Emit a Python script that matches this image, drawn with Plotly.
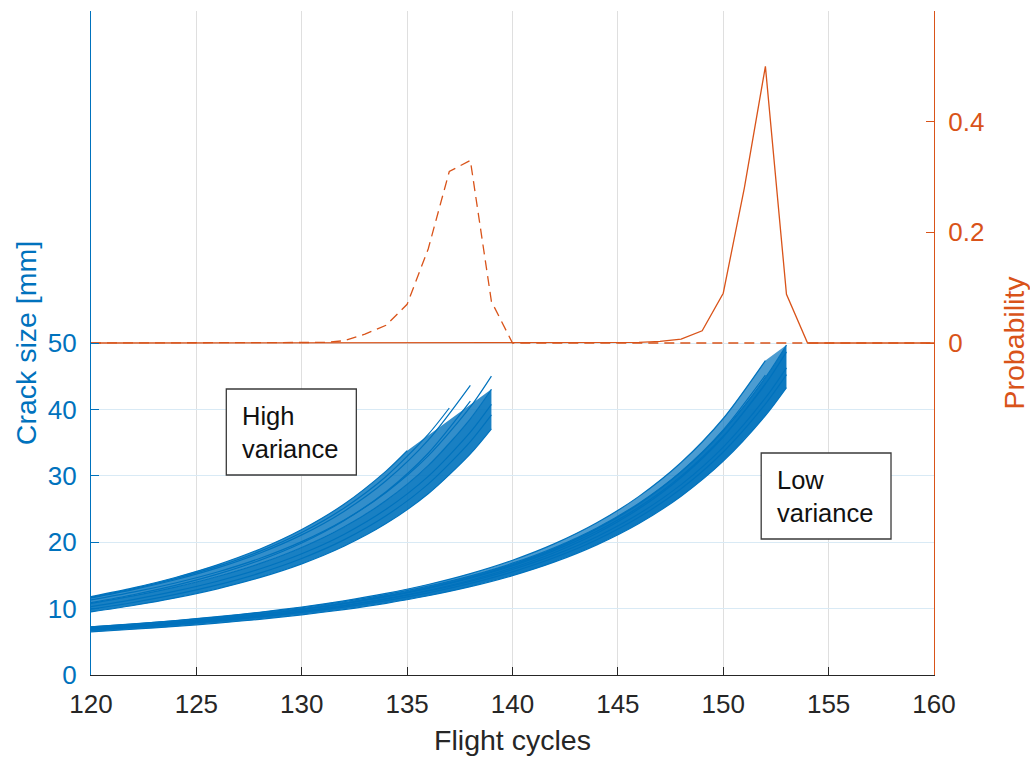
import plotly.graph_objects as go

BLUE = "#0072BD"
ORANGE = "#D95319"
DARK = "#262626"
FONT = "Liberation Sans, Arial, Helvetica, sans-serif"

# ---------------------------------------------------------------------------
# Crack growth paths, high-variance population (flight cycle -> crack size, mm)
# ---------------------------------------------------------------------------
hv_cycles_139 = [120, 122, 124, 126, 128, 130, 132, 134, 136, 138, 139]
hv_cycles_138 = [120, 122, 124, 126, 128, 130, 132, 134, 136, 138]
hv_cycles_137 = [120, 122, 124, 126, 128, 130, 132, 134, 136, 137]
hv_cycles_135 = [120, 122, 124, 126, 128, 130, 132, 134, 135]

hv_slowest = [9.50, 10.47, 11.61, 12.98, 14.66, 16.74, 19.39, 22.80, 27.29, 33.30, 37.07]
hv_fastest = [11.80, 13.12, 14.69, 16.59, 18.94, 21.91, 25.71, 30.70, 33.77]
hv_path_a = [9.90, 10.92, 12.13, 13.57, 15.34, 17.55, 20.35, 23.98, 28.75, 35.15, 39.17]
hv_path_b = [10.30, 11.36, 12.62, 14.12, 15.96, 18.26, 21.17, 24.95, 29.91, 36.57, 40.75]
hv_path_c = [10.80, 11.92, 13.24, 14.83, 16.77, 19.20, 22.28, 26.27, 31.53, 38.59, 43.03]
hv_path_d = [11.30, 12.47, 13.86, 15.51, 17.55, 20.09, 23.31, 27.49, 32.99, 40.37, 45.02]
hv_path_e = [11.60, 12.86, 14.34, 16.13, 18.34, 21.10, 24.64, 29.25, 35.36, 43.62]
hv_path_f = [10.90, 12.09, 13.49, 15.18, 17.27, 19.89, 23.24, 27.60, 33.40, 41.25]
hv_path_g = [11.70, 12.99, 14.51, 16.35, 18.62, 21.47, 25.13, 29.90, 36.24, 40.21]

# ---------------------------------------------------------------------------
# Crack growth paths, low-variance population
# ---------------------------------------------------------------------------
lv_cycles_153 = [120, 122, 124, 126, 128, 130, 132, 134, 136, 138, 140, 142,
                 144, 146, 148, 150, 152, 153]
lv_cycles_152 = [120, 122, 124, 126, 128, 130, 132, 134, 136, 138, 140, 142,
                 144, 146, 148, 150, 152]

lv_slowest = [6.50, 6.89, 7.32, 7.82, 8.39, 9.07, 9.86, 10.80, 11.93, 13.30,
              14.97, 17.03, 19.60, 22.82, 26.93, 32.21, 39.07, 43.29]
lv_fastest = [7.25, 7.68, 8.17, 8.73, 9.38, 10.13, 11.03, 12.10, 13.38, 14.94,
              16.84, 19.21, 22.15, 25.88, 30.63, 36.77, 44.81, 49.70]
lv_path_a = [6.75, 7.15, 7.60, 8.11, 8.71, 9.41, 10.23, 11.20, 12.38, 13.80,
             15.54, 17.69, 20.37, 23.75, 28.05, 33.59, 40.81, 45.24]
lv_path_b = [6.90, 7.31, 7.77, 8.29, 8.90, 9.61, 10.45, 11.45, 12.65, 14.11,
             15.89, 18.09, 20.83, 24.28, 28.67, 34.33, 41.72, 46.25]
lv_path_c = [7.05, 7.47, 7.95, 8.50, 9.13, 9.87, 10.75, 11.79, 13.05, 14.58,
             16.44, 18.76, 21.64, 25.29, 29.95, 35.96, 43.83, 48.67]
lv_path_d = [6.80, 7.22, 7.69, 8.23, 8.86, 9.59, 10.46, 11.49, 12.75, 14.27,
             16.13, 18.45, 21.35, 25.03, 29.74, 35.84, 43.86]
lv_path_e = [7.00, 7.43, 7.91, 8.47, 9.12, 9.87, 10.77, 11.83, 13.12, 14.69,
             16.61, 18.99, 21.98, 25.77, 30.61, 36.90, 45.15]
lv_path_f = [7.25, 7.70, 8.20, 8.78, 9.45, 10.24, 11.17, 12.28, 13.63, 15.27,
             17.28, 19.78, 22.92, 26.90, 32.00, 38.63, 47.35]

# ---------------------------------------------------------------------------
# Probability of reaching the critical crack size at each flight cycle
# ---------------------------------------------------------------------------
prob_cycles = list(range(120, 161))
pdf_high_variance = [0, 0, 0, 0, 0, 0, 0, 0, 0, 0,
                     0.0005, 0.001, 0.004, 0.016, 0.032, 0.07, 0.17, 0.31, 0.33, 0.075,
                     0, 0, 0, 0, 0, 0, 0, 0, 0, 0,
                     0, 0, 0, 0, 0, 0, 0, 0, 0, 0, 0]
pdf_low_variance = [0, 0, 0, 0, 0, 0, 0, 0, 0, 0,
                    0, 0, 0, 0, 0, 0, 0, 0, 0, 0,
                    0, 0, 0, 0, 0, 0.0005, 0.001, 0.003, 0.007, 0.022,
                    0.09, 0.28, 0.50, 0.088, 0, 0, 0, 0, 0, 0, 0]

x_ticks = [120, 125, 130, 135, 140, 145, 150, 155, 160]
crack_ticks = [0, 10, 20, 30, 40, 50]
prob_ticks = [0, 0.2, 0.4]
prob_tick_text = ["0", "0.2", "0.4"]

TICK_SIZE = 26
TITLE_SIZE = 28.5

fig = go.Figure()


def path(cycles, sizes, fill=None, fillcolor=None):
    fig.add_trace(go.Scatter(
        x=cycles, y=sizes, mode="lines",
        line=dict(color=BLUE, width=1.2, shape="spline", smoothing=0.8),
        fill=fill, fillcolor=fillcolor,
        hoverinfo="skip", showlegend=False, yaxis="y",
    ))


# High-variance band: shading between neighbouring outer paths, then inner paths
path(hv_cycles_139, hv_slowest)
path(hv_cycles_139, hv_path_c, fill="tonexty", fillcolor="rgba(0,114,189,0.9)")
path(hv_cycles_135, hv_fastest, fill="tonexty", fillcolor="rgba(0,114,189,0.8)")
for cyc, vals in [(hv_cycles_139, hv_path_a), (hv_cycles_139, hv_path_b),
                  (hv_cycles_139, hv_path_d), (hv_cycles_138, hv_path_e),
                  (hv_cycles_138, hv_path_f), (hv_cycles_137, hv_path_g)]:
    path(cyc, vals)

# Low-variance band
path(lv_cycles_153, lv_slowest)
path(lv_cycles_153, lv_fastest, fill="tonexty", fillcolor="rgba(0,114,189,0.95)")
path(lv_cycles_152, lv_path_f, fill="tonexty", fillcolor="rgba(0,114,189,0.7)")
for cyc, vals in [(lv_cycles_153, lv_path_a), (lv_cycles_153, lv_path_b),
                  (lv_cycles_153, lv_path_c), (lv_cycles_152, lv_path_d),
                  (lv_cycles_152, lv_path_e)]:
    path(cyc, vals)

# Failure probability curves on the right axis
fig.add_trace(go.Scatter(
    x=prob_cycles, y=pdf_low_variance, mode="lines",
    line=dict(color=ORANGE, width=1.3),
    hoverinfo="skip", showlegend=False, yaxis="y2",
))
fig.add_trace(go.Scatter(
    x=prob_cycles, y=pdf_high_variance, mode="lines",
    line=dict(color=ORANGE, width=1.3, dash="10px,6px"),
    hoverinfo="skip", showlegend=False, yaxis="y2",
))

# Text boxes labelling the two populations
boxes = [
    dict(x0=126.42, x1=132.59, y0=30.12, y1=43.07, tx=127.08, text="High<br>variance"),
    dict(x0=151.80, x1=157.96, y0=20.48, y1=33.43, tx=152.46, text="Low<br>variance"),
]
for b in boxes:
    fig.add_shape(type="rect", xref="x", yref="y",
                  x0=b["x0"], x1=b["x1"], y0=b["y0"], y1=b["y1"],
                  line=dict(color="#3a3a3a", width=1.3), fillcolor="white",
                  layer="above")
    fig.add_annotation(x=b["tx"], y=(b["y0"] + b["y1"]) / 2, xref="x", yref="y",
                       text=b["text"], showarrow=False, xanchor="left",
                       yanchor="middle", align="left",
                       font=dict(family=FONT, size=25.5, color="#111111"))

fig.update_layout(
    width=1030, height=758,
    margin=dict(l=91, r=96, t=11, b=83, autoexpand=False),
    paper_bgcolor="white", plot_bgcolor="white",
    font=dict(family=FONT, size=TICK_SIZE, color=DARK),
    showlegend=False,
    xaxis=dict(
        range=[120, 160], tickvals=x_ticks, ticks="inside", ticklen=8,
        tickcolor=DARK, tickfont=dict(size=TICK_SIZE, color=DARK),
        showline=True, linecolor=DARK, linewidth=1, automargin=False,
        showgrid=True, gridcolor="#DFDFDF", gridwidth=1, zeroline=False,
        ticklabelstandoff=6,
        title=dict(text="Flight cycles", font=dict(size=TITLE_SIZE, color=DARK), standoff=11),
    ),
    yaxis=dict(
        range=[0, 100], tickvals=crack_ticks, ticks="inside", ticklen=8,
        tickcolor=BLUE, tickfont=dict(size=TICK_SIZE, color=BLUE),
        showline=True, linecolor=BLUE, linewidth=1.3, automargin=False,
        showgrid=True, gridcolor="#D9EAF5", gridwidth=1, zeroline=False,
        ticklabelstandoff=8,
        title=dict(text="Crack size [mm]", font=dict(size=TITLE_SIZE, color=BLUE), standoff=2),
    ),
    yaxis2=dict(
        range=[-0.6, 0.6], tickvals=prob_ticks, ticktext=prob_tick_text,
        overlaying="y", side="right", ticks="inside", ticklen=8,
        tickcolor=ORANGE, tickfont=dict(size=TICK_SIZE, color=ORANGE),
        showline=True, linecolor=ORANGE, linewidth=1.3, automargin=False,
        showgrid=False, zeroline=False, ticklabelstandoff=8,
        title=dict(text="Probability", font=dict(size=TITLE_SIZE, color=ORANGE), standoff=24),
    ),
)

fig.write_html("out.html")
